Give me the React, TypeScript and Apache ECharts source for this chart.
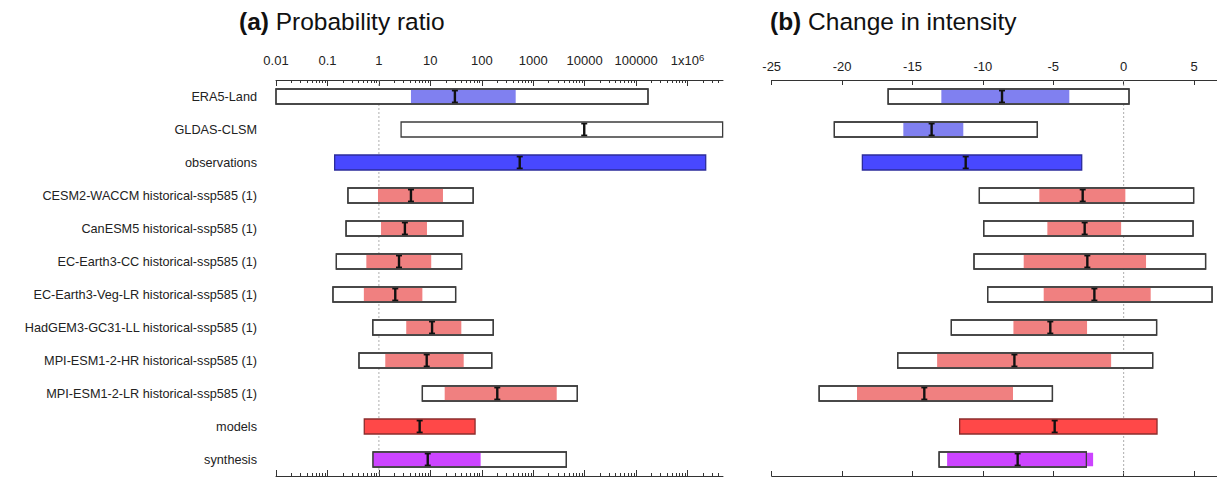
import React, { useEffect, useRef } from 'react';
import * as echarts from 'echarts';

// ---------- data ----------
const categories = [
  'ERA5-Land',
  'GLDAS-CLSM',
  'observations',
  'CESM2-WACCM historical-ssp585 (1)',
  'CanESM5 historical-ssp585 (1)',
  'EC-Earth3-CC historical-ssp585 (1)',
  'EC-Earth3-Veg-LR historical-ssp585 (1)',
  'HadGEM3-GC31-LL historical-ssp585 (1)',
  'MPI-ESM1-2-HR historical-ssp585 (1)',
  'MPI-ESM1-2-LR historical-ssp585 (1)',
  'models',
  'synthesis',
];
const rowKinds = [
  'dataset', 'dataset', 'obsSynthesis',
  'model', 'model', 'model', 'model', 'model', 'model', 'model',
  'modelSynthesis', 'synthesis',
];

// (a) Probability ratio
const prLow = [0.01, 2.7, 0.138, 0.25, 0.23, 0.149, 0.128, 0.76, 0.41, 7.0, 0.52, 0.77];
const prHigh = [1.7e5, 4.8e6, 2.25e6, 68, 43, 40.6, 31, 167, 156, 7190, 74, 4400];
const prInnerLow = [4.2, null, null, 0.96, 1.1, 0.57, 0.51, 3.4, 1.33, 19, null, 0.77];
const prInnerHigh = [456, null, null, 17.6, 8.6, 10.4, 7.0, 40, 44.5, 2860, null, 95];
const prBest = [30, 9800, 546, 4.2, 3.2, 2.46, 2.08, 10.8, 8.5, 200, 6.2, 8.9];

// (b) Change in intensity
const diLow = [-16.73, -20.55, -18.56, -10.25, -9.94, -10.63, -9.66, -12.24, -16.05, -21.63, -11.65, -13.11];
const diHigh = [0.38, -6.13, -2.98, 4.97, 4.93, 5.82, 6.28, 2.34, 2.06, -5.06, 2.37, -2.65];
const diInnerLow = [-12.95, -15.65, null, -5.99, -5.42, -7.1, -5.68, -7.83, -13.25, -18.94, null, -12.54];
const diInnerHigh = [-3.86, -11.39, null, 0.12, -0.18, 1.59, 1.92, -2.6, -0.89, -7.86, null, -2.17];
const diBest = [-8.64, -13.64, -11.22, -2.91, -2.77, -2.58, -2.08, -5.21, -7.76, -14.16, -4.9, -7.53];

// axis ticks
const prTickValues = [0.01, 0.1, 1, 10, 100, 1000, 10000, 100000, 1000000];
const prTickLabels = ['0.01', '0.1', '1', '10', '100', '1000', '10000', '100000', '1x10^6'];
const diTickValues = [-25, -20, -15, -10, -5, 0, 5];

// ---------- styling ----------
const FONT = "'Liberation Sans', Arial, Helvetica, sans-serif";
const AXIS_COLOR = '#333';
const PR_MIN = 0.01;
const PR_MAX = 4.88e6;
const DI_MIN = -25;
const DI_MAX = 6.63;
const BAR_H = 15;

const KIND_STYLE: Record<string, { fill: string; stroke: string; inner?: string }> = {
  dataset: { fill: '#ffffff', stroke: '#3c3c3c', inner: '#8080f0' },
  model: { fill: '#ffffff', stroke: '#3c3c3c', inner: '#f08080' },
  obsSynthesis: { fill: '#4848ff', stroke: '#2c2c9c' },
  modelSynthesis: { fill: '#ff4848', stroke: '#8c2c2c' },
  synthesis: { fill: '#ffffff', stroke: '#3c3c3c', inner: '#cc44ff' },
};

const minorPr: number[] = [];
for (let e = -2; e <= 6; e++) {
  for (let k = 2; k <= 9; k++) {
    const v = k * Math.pow(10, e);
    if (v < PR_MAX) minorPr.push(Number(v.toPrecision(6)));
  }
}

function prFormatter(value: number) {
  let idx = 0;
  let best = Infinity;
  prTickValues.forEach((tv, i) => {
    const d = Math.abs(Math.log10(value) - Math.log10(tv));
    if (d < best) { best = d; idx = i; }
  });
  const lab = prTickLabels[idx];
  if (lab.indexOf('^') >= 0) {
    const [base, exp] = lab.split('^');
    return `{n|${base}}{s|${exp}}`;
  }
  return lab;
}

function makeBars(
  lo: number[], hi: number[], ilo: (number | null)[], ihi: (number | null)[], best: number[],
) {
  return (params: any, api: any) => {
    const i = params.dataIndex;
    const st = KIND_STYLE[rowKinds[i]];
    const yc = api.coord([best[i], i])[1];
    const xa = api.coord([lo[i], i])[0];
    const xb = api.coord([hi[i], i])[0];
    const xc = api.coord([best[i], i])[0];
    const top = yc - BAR_H / 2;
    const children: any[] = [
      {
        type: 'rect',
        shape: { x: xa, y: top, width: xb - xa, height: BAR_H },
        style: { fill: st.fill, stroke: st.stroke, lineWidth: 1.3 },
      },
    ];
    const a = ilo[i];
    const b = ihi[i];
    if (a != null && b != null && st.inner) {
      const x0 = api.coord([a, i])[0];
      const x1 = api.coord([b, i])[0];
      children.push({
        type: 'rect',
        shape: { x: x0, y: top + 0.7, width: x1 - x0, height: BAR_H - 1.4 },
        style: { fill: st.inner },
      });
      children.push({
        type: 'rect',
        shape: { x: xa, y: top, width: xb - xa, height: BAR_H },
        style: { fill: 'none', stroke: st.stroke, lineWidth: 1.3 },
      });
    }
    children.push({
      type: 'line',
      shape: { x1: xc, y1: top + 1.5, x2: xc, y2: top + BAR_H - 1.5 },
      style: { stroke: '#111', lineWidth: 2.4 },
    });
    children.push({
      type: 'line',
      shape: { x1: xc - 3, y1: top + 1.6, x2: xc + 3, y2: top + 1.6 },
      style: { stroke: '#111', lineWidth: 1.7 },
    });
    children.push({
      type: 'line',
      shape: { x1: xc - 3, y1: top + BAR_H - 1.6, x2: xc + 3, y2: top + BAR_H - 1.6 },
      style: { stroke: '#111', lineWidth: 1.7 },
    });
    return { type: 'group', children };
  };
}

function refLine(params: any, api: any) {
  const cs = params.coordSys;
  const x = api.coord([api.value(0), 0])[0];
  return {
    type: 'line',
    shape: { x1: x, y1: cs.y, x2: x, y2: cs.y + cs.height },
    style: { stroke: '#999', lineWidth: 0.8, lineDash: [2, 2] },
  };
}

const prBase = {
  type: 'log',
  logBase: 10,
  gridIndex: 0,
  min: PR_MIN,
  max: PR_MAX,
  splitLine: { show: false },
  minorTick: { show: false },
  minorSplitLine: { show: false },
};
const diBase = {
  type: 'value',
  gridIndex: 1,
  min: DI_MIN,
  max: DI_MAX,
  interval: 5,
  splitLine: { show: false },
};
const axisLine = { show: true, lineStyle: { color: AXIS_COLOR, width: 1 } };
const noLine = { show: false };
const labelStyle = { color: '#222', fontSize: 13, fontFamily: FONT };

const titleRich = {
  b: { fontWeight: 'bold', fontSize: 24.5, fontFamily: FONT, color: '#111' },
  n: { fontWeight: 'normal', fontSize: 24.5, fontFamily: FONT, color: '#111' },
};

const option: any = {
  animation: false,
  backgroundColor: '#ffffff',
  textStyle: { fontFamily: FONT },
  title: [
    {
      left: 239,
      top: 9,
      padding: 0,
      text: '{b|(a)}{n| Probability ratio}',
      textStyle: { fontWeight: 'normal', fontSize: 24.5, rich: titleRich },
    },
    {
      left: 770,
      top: 9,
      padding: 0,
      text: '{b|(b)}{n| Change in intensity}',
      textStyle: { fontWeight: 'normal', fontSize: 24.5, rich: titleRich },
    },
  ],
  grid: [
    { left: 276, top: 80, width: 447, height: 396 },
    { left: 771.7, top: 80, right: 0, height: 396 },
  ],
  xAxis: [
    {
      ...prBase,
      position: 'top',
      axisLine,
      axisTick: { show: true, inside: true, length: 6, customValues: prTickValues, lineStyle: { color: AXIS_COLOR } },
      axisLabel: {
        show: true,
        ...labelStyle,
        margin: 13,
        customValues: prTickValues,
        formatter: prFormatter,
        rich: {
          n: { fontSize: 13, fontFamily: FONT, color: '#222', verticalAlign: 'bottom' },
          s: { fontSize: 9.5, fontFamily: FONT, color: '#222', verticalAlign: 'top', padding: [0, 0, 5, 0] },
        },
      },
    },
    {
      ...prBase,
      position: 'top',
      axisLine: noLine,
      axisTick: { show: true, inside: true, length: 3, customValues: minorPr, lineStyle: { color: AXIS_COLOR } },
      axisLabel: { show: false },
    },
    {
      ...prBase,
      position: 'bottom',
      axisLine,
      axisTick: { show: true, inside: true, length: 6, customValues: prTickValues, lineStyle: { color: AXIS_COLOR } },
      axisLabel: { show: false },
    },
    {
      ...prBase,
      position: 'bottom',
      axisLine: noLine,
      axisTick: { show: true, inside: true, length: 3, customValues: minorPr, lineStyle: { color: AXIS_COLOR } },
      axisLabel: { show: false },
    },
    {
      ...diBase,
      position: 'top',
      axisLine,
      axisTick: { show: true, inside: true, length: 5, customValues: diTickValues, lineStyle: { color: AXIS_COLOR } },
      axisLabel: { show: true, ...labelStyle, margin: 7, customValues: diTickValues },
    },
    {
      ...diBase,
      position: 'bottom',
      axisLine,
      axisTick: { show: true, inside: true, length: 5, customValues: diTickValues, lineStyle: { color: AXIS_COLOR } },
      axisLabel: { show: false },
    },
  ],
  yAxis: [
    {
      type: 'category',
      gridIndex: 0,
      inverse: true,
      data: categories,
      axisLine: { show: false },
      axisTick: { show: false },
      splitLine: { show: false },
      axisLabel: { show: true, color: '#222', fontSize: 12.7, fontFamily: FONT, margin: 19 },
    },
    {
      type: 'category',
      gridIndex: 1,
      inverse: true,
      data: categories,
      axisLine: { show: false },
      axisTick: { show: false },
      splitLine: { show: false },
      axisLabel: { show: false },
    },
  ],
  series: [
    {
      type: 'custom',
      xAxisIndex: 0,
      yAxisIndex: 0,
      z: 1,
      clip: false,
      silent: true,
      renderItem: refLine,
      data: [[1, 0]],
    },
    {
      type: 'custom',
      xAxisIndex: 0,
      yAxisIndex: 0,
      z: 2,
      clip: false,
      silent: true,
      renderItem: makeBars(prLow, prHigh, prInnerLow, prInnerHigh, prBest),
      encode: { x: 0, y: 1 },
      data: categories.map((_, i) => [prBest[i], i]),
    },
    {
      type: 'custom',
      xAxisIndex: 4,
      yAxisIndex: 1,
      z: 1,
      clip: false,
      silent: true,
      renderItem: refLine,
      data: [[0, 0]],
    },
    {
      type: 'custom',
      xAxisIndex: 4,
      yAxisIndex: 1,
      z: 2,
      clip: false,
      silent: true,
      renderItem: makeBars(diLow, diHigh, diInnerLow, diInnerHigh, diBest),
      encode: { x: 0, y: 1 },
      data: categories.map((_, i) => [diBest[i], i]),
    },
  ],
};

export default function App() {
  const ref = useRef<HTMLDivElement>(null);
  useEffect(() => {
    if (!ref.current) return;
    const chart = echarts.init(ref.current, null, { renderer: 'svg' });
    chart.setOption(option);
    return () => chart.dispose();
  }, []);
  return (
    <div
      ref={ref}
      style={{ position: 'fixed', left: 0, top: 0, width: 1217, height: 477, background: '#fff' }}
    />
  );
}
